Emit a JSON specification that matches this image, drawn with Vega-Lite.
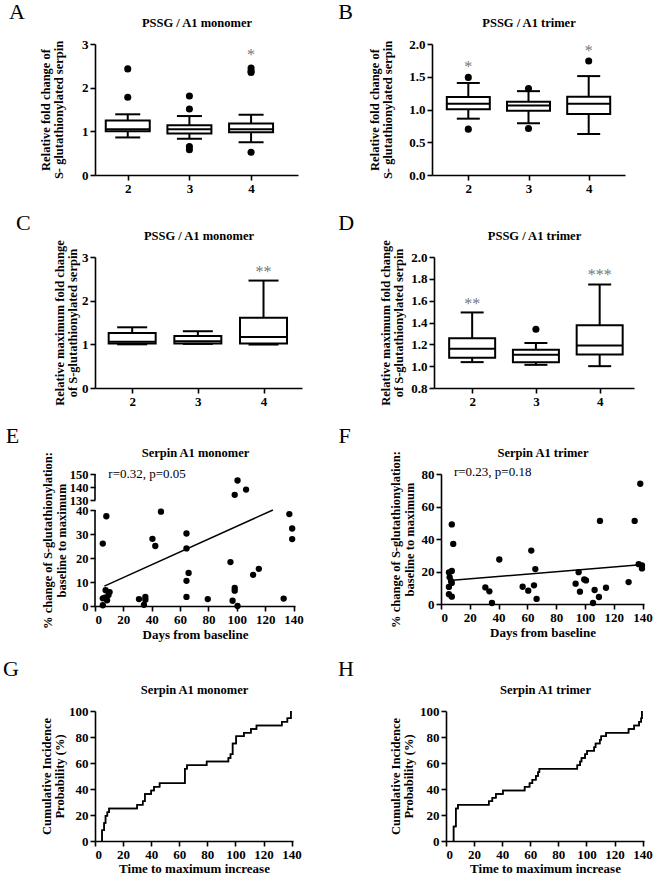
{
  "$schema": "https://vega.github.io/schema/vega-lite/v6.json",
  "padding": {"left": 3, "top": 1, "right": 0, "bottom": 0},
  "background": "white",
  "config": {
    "font": "Liberation Serif",
    "view": {"stroke": null},
    "axis": {"grid": false, "domainColor": "black", "domainWidth": 1.6, "tickColor": "black", "tickWidth": 1.6, "tickSize": 5, "labelOverlap": false,
      "labelFont": "Liberation Serif", "labelFontSize": 13, "labelFontWeight": "bold", "labelColor": "black", "labelPadding": 2,
      "titleFont": "Liberation Serif", "titleFontSize": 12.5, "titleFontWeight": "bold", "titleColor": "black", "titlePadding": 12, "titleLineHeight": 13.5},
    "title": {"font": "Liberation Serif", "fontSize": 22, "fontWeight": "normal", "color": "black", "anchor": "start"}
  },
  "datasets": {
    "boxA": [{"g": 2, "lo": 0.86, "q1": 1.0, "med": 1.05, "q3": 1.25, "hi": 1.39}, {"g": 3, "lo": 0.83, "q1": 0.95, "med": 1.05, "q3": 1.14, "hi": 1.35}, {"g": 4, "lo": 0.75, "q1": 0.98, "med": 1.05, "q3": 1.18, "hi": 1.38}],
    "outA": [{"g": 2, "v": 2.43}, {"g": 2, "v": 1.78}, {"g": 3, "v": 1.81}, {"g": 3, "v": 1.51}, {"g": 3, "v": 0.58}, {"g": 3, "v": 0.65}, {"g": 4, "v": 2.38}, {"g": 4, "v": 2.35}, {"g": 4, "v": 2.45}, {"g": 4, "v": 0.52}],
    "starA": [{"g": 4, "v": 2.85, "s": "*"}],
    "boxB": [{"g": 2, "lo": 0.86, "q1": 1.005, "med": 1.087, "q3": 1.19, "hi": 1.405}, {"g": 3, "lo": 0.79, "q1": 0.98, "med": 1.06, "q3": 1.12, "hi": 1.28}, {"g": 4, "lo": 0.626, "q1": 0.93, "med": 1.087, "q3": 1.195, "hi": 1.51}],
    "outB": [{"g": 2, "v": 1.49}, {"g": 2, "v": 0.70}, {"g": 3, "v": 1.32}, {"g": 3, "v": 0.71}, {"g": 4, "v": 1.74}],
    "starB": [{"g": 2, "v": 1.71, "s": "*"}, {"g": 4, "v": 1.95, "s": "*"}],
    "boxC": [{"g": 2, "lo": 1.0, "q1": 1.02, "med": 1.06, "q3": 1.26, "hi": 1.39}, {"g": 3, "lo": 1.01, "q1": 1.02, "med": 1.07, "q3": 1.19, "hi": 1.30}, {"g": 4, "lo": 0.995, "q1": 1.02, "med": 1.17, "q3": 1.61, "hi": 2.46}],
    "starC": [{"g": 4, "v": 2.75, "s": "**"}],
    "boxD": [{"g": 2, "lo": 1.037, "q1": 1.077, "med": 1.16, "q3": 1.255, "hi": 1.492}, {"g": 3, "lo": 1.012, "q1": 1.037, "med": 1.105, "q3": 1.151, "hi": 1.212}, {"g": 4, "lo": 1.0, "q1": 1.108, "med": 1.19, "q3": 1.375, "hi": 1.748}],
    "outD": [{"g": 3, "v": 1.338}],
    "starD": [{"g": 2, "v": 1.61, "s": "**"}, {"g": 4, "v": 1.874, "s": "***"}],
    "E": [{"d": 5.5, "v": 26}, {"d": 5.5, "v": 0.3}, {"d": 5.5, "v": 3.2}, {"d": 6.8, "v": 3.5}, {"d": 7.5, "v": 6.6}, {"d": 8, "v": 37.4}, {"d": 8.5, "v": 2.4}, {"d": 9.5, "v": 4.6}, {"d": 10.3, "v": 5.8}, {"d": 31, "v": 2.9}, {"d": 35.5, "v": 3.8}, {"d": 35.5, "v": 2.6}, {"d": 34.5, "v": 0.5}, {"d": 40.5, "v": 28}, {"d": 42.5, "v": 25}, {"d": 46.5, "v": 39.3}, {"d": 64.5, "v": 30.2}, {"d": 64.5, "v": 24}, {"d": 64.5, "v": 10.5}, {"d": 64.5, "v": 3.8}, {"d": 66, "v": 13.8}, {"d": 79.5, "v": 2.9}, {"d": 95.5, "v": 18.3}, {"d": 97, "v": 2.2}, {"d": 98.5, "v": 7.5}, {"d": 98.5, "v": 6.4}, {"d": 100.5, "v": 0}, {"d": 98.5, "v": 134}, {"d": 100.5, "v": 145}, {"d": 106.5, "v": 138}, {"d": 111.5, "v": 13}, {"d": 115.5, "v": 15.5}, {"d": 133, "v": 3.1}, {"d": 137, "v": 38.3}, {"d": 139, "v": 32.3}, {"d": 139, "v": 27.9}],
    "Efit": [{"d": 6.6, "v": 8.3}, {"d": 125.4, "v": 40}],
    "Eaxis": [{"a": 0, "b": 40}, {"a": 130, "b": 150}],
    "F": [{"d": 5.5, "v": 19.5}, {"d": 7.5, "v": 20.3}, {"d": 7.5, "v": 49}, {"d": 8.5, "v": 37}, {"d": 6, "v": 16.5}, {"d": 7, "v": 14}, {"d": 7.5, "v": 13}, {"d": 5.5, "v": 10.5}, {"d": 5.5, "v": 6}, {"d": 7.5, "v": 4.5}, {"d": 30.8, "v": 10.2}, {"d": 33.6, "v": 7.8}, {"d": 35.4, "v": 0.6}, {"d": 40.5, "v": 27.4}, {"d": 56.7, "v": 10.6}, {"d": 60.6, "v": 8.2}, {"d": 62.7, "v": 32.9}, {"d": 64.6, "v": 11.5}, {"d": 65.5, "v": 21.5}, {"d": 66.4, "v": 3.1}, {"d": 93.5, "v": 12.5}, {"d": 95.6, "v": 19.6}, {"d": 96.5, "v": 7.6}, {"d": 99.5, "v": 15.1}, {"d": 100.7, "v": 14.5}, {"d": 105.6, "v": 0.6}, {"d": 106.7, "v": 8.6}, {"d": 109.7, "v": 4.3}, {"d": 110.4, "v": 51.1}, {"d": 114.6, "v": 10}, {"d": 130.3, "v": 13.5}, {"d": 134.5, "v": 51.1}, {"d": 138.4, "v": 74}, {"d": 137.3, "v": 24.5}, {"d": 139.6, "v": 23.7}, {"d": 139.6, "v": 21.9}],
    "Ffit": [{"d": 5.8, "v": 14.5}, {"d": 138.4, "v": 24.1}],
    "G": [{"d": 5, "v": 0}, {"d": 5, "v": 8.3}, {"d": 6.5, "v": 13.9}, {"d": 7.5, "v": 19.4}, {"d": 8.8, "v": 22.2}, {"d": 10, "v": 25}, {"d": 30, "v": 27.8}, {"d": 34, "v": 30.6}, {"d": 35.5, "v": 36.1}, {"d": 40, "v": 38.9}, {"d": 42, "v": 41.7}, {"d": 46, "v": 44.4}, {"d": 64, "v": 55.6}, {"d": 65.5, "v": 58.3}, {"d": 79.5, "v": 61.1}, {"d": 95, "v": 63.9}, {"d": 96.5, "v": 66.7}, {"d": 98, "v": 75}, {"d": 100.5, "v": 80.6}, {"d": 106, "v": 83.3}, {"d": 111, "v": 86.1}, {"d": 115, "v": 88.9}, {"d": 133, "v": 91.7}, {"d": 137, "v": 94.4}, {"d": 139.5, "v": 100}],
    "H": [{"d": 5.4, "v": 0}, {"d": 5.4, "v": 11.1}, {"d": 7, "v": 25}, {"d": 8.5, "v": 27.8}, {"d": 30.5, "v": 30.6}, {"d": 33, "v": 33.3}, {"d": 35.5, "v": 36.1}, {"d": 40.5, "v": 38.9}, {"d": 56, "v": 41.7}, {"d": 59.5, "v": 44.4}, {"d": 61.5, "v": 47.2}, {"d": 64, "v": 50}, {"d": 65.5, "v": 52.8}, {"d": 66.5, "v": 55.6}, {"d": 93.5, "v": 58.3}, {"d": 95.5, "v": 61.1}, {"d": 96.5, "v": 63.9}, {"d": 99, "v": 66.7}, {"d": 100.5, "v": 69.4}, {"d": 105.5, "v": 72.2}, {"d": 106.5, "v": 75}, {"d": 109.5, "v": 77.8}, {"d": 110.5, "v": 80.6}, {"d": 114, "v": 83.3}, {"d": 130, "v": 86.1}, {"d": 134, "v": 88.9}, {"d": 137.5, "v": 91.7}, {"d": 139, "v": 94.4}, {"d": 139.5, "v": 100}],
    "rE": [{"d": 9.4, "v": 150, "s": "r=0.32, p=0.05"}],
    "rF": [{"d": 9, "v": 81, "s": "r=0.23, p=0.18"}]
  },
  "columns": 2,
  "align": {"row": "each", "column": "none"},
  "spacing": {"row": 17, "column": 34},
  "concat": [
    {"title": {"text": "A", "offset": -8, "dx": -30},
     "width": 203, "height": 131, "data": {"name": "boxA"},
     "resolve": {"axis": {"x": "independent"}},
     "layer": [
      {"mark": {"type": "rule", "strokeWidth": 2, "color": "black"},
       "encoding": {"x": {"field": "g", "type": "quantitative", "scale": {"domain": [1.55, 4.68], "nice": false, "zero": false}, "axis": {"values": [2, 3, 4], "tickCount": 20, "format": "d", "title": null}},
         "y": {"field": "lo", "type": "quantitative", "scale": {"domain": [0, 3], "nice": false}, "axis": {"values": [0, 1, 2, 3], "tickCount": 20, "format": "d", "titlePadding": 16, "title": ["Relative fold change of", "S- glutathionylated serpin"]}}, "y2": {"field": "hi"}}},
      {"mark": {"type": "bar", "width": 44, "fill": "white", "stroke": "black", "strokeWidth": 2},
       "encoding": {"x": {"field": "g", "type": "quantitative", "axis": {"orient": "top", "domain": false, "ticks": false, "labels": false, "title": "PSSG / A1 monomer", "titlePadding": 15}}, "y": {"field": "q1", "type": "quantitative"}, "y2": {"field": "q3"}}},
      {"mark": {"type": "tick", "orient": "horizontal", "size": 44, "thickness": 2, "color": "black", "opacity": 1},
       "encoding": {"x": {"field": "g", "type": "quantitative", "axis": null}, "y": {"field": "med", "type": "quantitative"}}},
      {"mark": {"type": "tick", "orient": "horizontal", "size": 25, "thickness": 2, "color": "black", "opacity": 1},
       "encoding": {"x": {"field": "g", "type": "quantitative", "axis": null}, "y": {"field": "lo", "type": "quantitative"}}},
      {"mark": {"type": "tick", "orient": "horizontal", "size": 25, "thickness": 2, "color": "black", "opacity": 1},
       "encoding": {"x": {"field": "g", "type": "quantitative", "axis": null}, "y": {"field": "hi", "type": "quantitative"}}},
      {"data": {"name": "outA"}, "mark": {"type": "circle", "size": 50, "color": "black", "opacity": 1},
       "encoding": {"x": {"field": "g", "type": "quantitative", "axis": null}, "y": {"field": "v", "type": "quantitative"}}},
      {"data": {"name": "starA"}, "mark": {"type": "text", "fontSize": 16, "color": "#777777", "baseline": "middle", "dy": 4},
       "encoding": {"x": {"field": "g", "type": "quantitative", "axis": null}, "y": {"field": "v", "type": "quantitative"}, "text": {"field": "s"}}}
     ]},
    {"title": {"text": "B", "offset": -8, "dx": -30},
     "width": 193, "height": 131, "data": {"name": "boxB"},
     "resolve": {"axis": {"x": "independent"}},
     "layer": [
      {"mark": {"type": "rule", "strokeWidth": 2, "color": "black"},
       "encoding": {"x": {"field": "g", "type": "quantitative", "scale": {"domain": [1.48, 4.52], "nice": false, "zero": false}, "axis": {"values": [2, 3, 4], "tickCount": 20, "format": "d", "title": null}},
         "y": {"field": "lo", "type": "quantitative", "scale": {"domain": [0, 2], "nice": false}, "axis": {"values": [0, 0.5, 1, 1.5, 2], "tickCount": 20, "format": ".1f", "titlePadding": 14, "title": ["Relative fold change of", "S- glutathionylated serpin"]}}, "y2": {"field": "hi"}}},
      {"mark": {"type": "bar", "width": 43, "fill": "white", "stroke": "black", "strokeWidth": 2},
       "encoding": {"x": {"field": "g", "type": "quantitative", "axis": {"orient": "top", "domain": false, "ticks": false, "labels": false, "title": "PSSG / A1 trimer", "titlePadding": 15}}, "y": {"field": "q1", "type": "quantitative"}, "y2": {"field": "q3"}}},
      {"mark": {"type": "tick", "orient": "horizontal", "size": 43, "thickness": 2, "color": "black", "opacity": 1},
       "encoding": {"x": {"field": "g", "type": "quantitative", "axis": null}, "y": {"field": "med", "type": "quantitative"}}},
      {"mark": {"type": "tick", "orient": "horizontal", "size": 23, "thickness": 2, "color": "black", "opacity": 1},
       "encoding": {"x": {"field": "g", "type": "quantitative", "axis": null}, "y": {"field": "lo", "type": "quantitative"}}},
      {"mark": {"type": "tick", "orient": "horizontal", "size": 23, "thickness": 2, "color": "black", "opacity": 1},
       "encoding": {"x": {"field": "g", "type": "quantitative", "axis": null}, "y": {"field": "hi", "type": "quantitative"}}},
      {"data": {"name": "outB"}, "mark": {"type": "circle", "size": 50, "color": "black", "opacity": 1},
       "encoding": {"x": {"field": "g", "type": "quantitative", "axis": null}, "y": {"field": "v", "type": "quantitative"}}},
      {"data": {"name": "starB"}, "mark": {"type": "text", "fontSize": 16, "color": "#777777", "baseline": "middle", "dy": 4},
       "encoding": {"x": {"field": "g", "type": "quantitative", "axis": null}, "y": {"field": "v", "type": "quantitative"}, "text": {"field": "s"}}}
     ]},
    {"title": {"text": "C", "offset": -6, "dx": -37},
     "width": 207, "height": 131, "data": {"name": "boxC"},
     "resolve": {"axis": {"x": "independent"}},
     "layer": [
      {"mark": {"type": "rule", "strokeWidth": 2, "color": "black"},
       "encoding": {"x": {"field": "g", "type": "quantitative", "scale": {"domain": [1.51, 4.51], "nice": false, "zero": false}, "axis": {"values": [2, 3, 4], "tickCount": 20, "format": "d", "title": null}},
         "y": {"field": "lo", "type": "quantitative", "scale": {"domain": [0, 3], "nice": false}, "axis": {"values": [0, 1, 2, 3], "tickCount": 20, "format": "d", "titlePadding": 2, "title": ["Relative maximum fold change", "of S-glutathionylated serpin"]}}, "y2": {"field": "hi"}}},
      {"mark": {"type": "bar", "width": 47, "fill": "white", "stroke": "black", "strokeWidth": 2},
       "encoding": {"x": {"field": "g", "type": "quantitative", "axis": {"orient": "top", "domain": false, "ticks": false, "labels": false, "title": "PSSG / A1 monomer", "titlePadding": 15}}, "y": {"field": "q1", "type": "quantitative"}, "y2": {"field": "q3"}}},
      {"mark": {"type": "tick", "orient": "horizontal", "size": 47, "thickness": 2, "color": "black", "opacity": 1},
       "encoding": {"x": {"field": "g", "type": "quantitative", "axis": null}, "y": {"field": "med", "type": "quantitative"}}},
      {"mark": {"type": "tick", "orient": "horizontal", "size": 30, "thickness": 2, "color": "black", "opacity": 1},
       "encoding": {"x": {"field": "g", "type": "quantitative", "axis": null}, "y": {"field": "lo", "type": "quantitative"}}},
      {"mark": {"type": "tick", "orient": "horizontal", "size": 30, "thickness": 2, "color": "black", "opacity": 1},
       "encoding": {"x": {"field": "g", "type": "quantitative", "axis": null}, "y": {"field": "hi", "type": "quantitative"}}},
      {"data": {"name": "starC"}, "mark": {"type": "text", "fontSize": 16, "color": "#777777", "baseline": "middle", "dy": 4},
       "encoding": {"x": {"field": "g", "type": "quantitative", "axis": null}, "y": {"field": "v", "type": "quantitative"}, "text": {"field": "s"}}}
     ]},
    {"title": {"text": "D", "offset": -6, "dx": -41},
     "width": 200, "height": 131, "data": {"name": "boxD"},
     "resolve": {"axis": {"x": "independent"}},
     "layer": [
      {"mark": {"type": "rule", "strokeWidth": 2, "color": "black"},
       "encoding": {"x": {"field": "g", "type": "quantitative", "scale": {"domain": [1.48, 4.46], "nice": false, "zero": false}, "axis": {"values": [2, 3, 4], "tickCount": 20, "format": "d", "title": null}},
         "y": {"field": "lo", "type": "quantitative", "scale": {"domain": [0.8, 2], "nice": false, "zero": false}, "axis": {"values": [0.8, 1.0, 1.2, 1.4, 1.6, 1.8, 2.0], "tickCount": 20, "format": ".1f", "titlePadding": 5, "title": ["Relative maximum fold change", "of S-glutathionylated serpin"]}}, "y2": {"field": "hi"}}},
      {"mark": {"type": "bar", "width": 46, "fill": "white", "stroke": "black", "strokeWidth": 2},
       "encoding": {"x": {"field": "g", "type": "quantitative", "axis": {"orient": "top", "domain": false, "ticks": false, "labels": false, "title": "PSSG / A1 trimer", "titlePadding": 15}}, "y": {"field": "q1", "type": "quantitative"}, "y2": {"field": "q3"}}},
      {"mark": {"type": "tick", "orient": "horizontal", "size": 46, "thickness": 2, "color": "black", "opacity": 1},
       "encoding": {"x": {"field": "g", "type": "quantitative", "axis": null}, "y": {"field": "med", "type": "quantitative"}}},
      {"mark": {"type": "tick", "orient": "horizontal", "size": 23, "thickness": 2, "color": "black", "opacity": 1},
       "encoding": {"x": {"field": "g", "type": "quantitative", "axis": null}, "y": {"field": "lo", "type": "quantitative"}}},
      {"mark": {"type": "tick", "orient": "horizontal", "size": 23, "thickness": 2, "color": "black", "opacity": 1},
       "encoding": {"x": {"field": "g", "type": "quantitative", "axis": null}, "y": {"field": "hi", "type": "quantitative"}}},
      {"data": {"name": "outD"}, "mark": {"type": "circle", "size": 50, "color": "black", "opacity": 1},
       "encoding": {"x": {"field": "g", "type": "quantitative", "axis": null}, "y": {"field": "v", "type": "quantitative"}}},
      {"data": {"name": "starD"}, "mark": {"type": "text", "fontSize": 16, "color": "#777777", "baseline": "middle", "dy": 4},
       "encoding": {"x": {"field": "g", "type": "quantitative", "axis": null}, "y": {"field": "v", "type": "quantitative"}, "text": {"field": "s"}}}
     ]},
    {"title": {"text": "E", "offset": -2, "dx": -36},
     "width": 200, "height": 132,
     "resolve": {"axis": {"x": "independent"}},
     "layer": [
      {"data": {"name": "E"}, "mark": {"type": "circle", "size": 40, "color": "black", "opacity": 1},
       "encoding": {"x": {"field": "d", "type": "quantitative", "scale": {"domain": [0, 141], "nice": false}, "axis": {"values": [0, 20, 40, 60, 80, 100, 120, 140], "tickCount": 20, "format": "d", "title": "Days from baseline", "titleFontSize": 13, "titlePadding": 2}},
         "y": {"field": "v", "type": "quantitative", "scale": {"domain": [0, 40, 130, 150], "range": [132, 36, 26, 0], "nice": false, "zero": false}, "axis": {"values": [0, 10, 20, 30, 40, 130, 140, 150], "tickCount": 20, "format": "d", "labelFontSize": 12.5, "domain": false, "titlePadding": 1, "title": ["% change of S-glutathionylation:", "baseline to maximum"]}}}},
      {"data": {"name": "Eaxis"}, "mark": {"type": "rule", "color": "black", "strokeWidth": 1.6},
       "encoding": {"x": {"datum": 0, "type": "quantitative", "axis": null}, "y": {"field": "a", "type": "quantitative"}, "y2": {"field": "b"}}},
      {"data": {"name": "Efit"}, "mark": {"type": "line", "color": "black", "strokeWidth": 1.5},
       "encoding": {"x": {"field": "d", "type": "quantitative", "axis": {"orient": "top", "domain": false, "ticks": false, "labels": false, "title": "Serpin A1 monomer", "titlePadding": 15}}, "y": {"field": "v", "type": "quantitative"}}},
      {"data": {"name": "rE"}, "mark": {"type": "text", "align": "left", "baseline": "middle", "fontSize": 13, "fontWeight": "normal", "color": "black"},
       "encoding": {"x": {"field": "d", "type": "quantitative", "axis": null}, "y": {"field": "v", "type": "quantitative"}, "text": {"field": "s"}}}
     ]},
    {"title": {"text": "F", "offset": -2, "dx": -51},
     "width": 203, "height": 130,
     "resolve": {"axis": {"x": "independent"}},
     "layer": [
      {"data": {"name": "F"}, "mark": {"type": "circle", "size": 40, "color": "black", "opacity": 1},
       "encoding": {"x": {"field": "d", "type": "quantitative", "scale": {"domain": [0, 141], "nice": false}, "axis": {"values": [0, 20, 40, 60, 80, 100, 120, 140], "tickCount": 20, "format": "d", "title": "Days from baseline", "titleFontSize": 13, "titlePadding": 2}},
         "y": {"field": "v", "type": "quantitative", "scale": {"domain": [0, 80], "nice": false}, "axis": {"values": [0, 20, 40, 60, 80], "tickCount": 20, "format": "d", "titlePadding": 5, "title": ["% change of S-glutathionylation:", "baseline to maximum"]}}}},
      {"data": {"name": "Ffit"}, "mark": {"type": "line", "color": "black", "strokeWidth": 1.5},
       "encoding": {"x": {"field": "d", "type": "quantitative", "axis": {"orient": "top", "domain": false, "ticks": false, "labels": false, "title": "Serpin A1 trimer", "titlePadding": 15}}, "y": {"field": "v", "type": "quantitative"}}},
      {"data": {"name": "rF"}, "mark": {"type": "text", "align": "left", "baseline": "middle", "fontSize": 13, "fontWeight": "normal", "color": "black"},
       "encoding": {"x": {"field": "d", "type": "quantitative", "axis": null}, "y": {"field": "v", "type": "quantitative"}, "text": {"field": "s"}}}
     ]},
    {"title": {"text": "G", "offset": 2, "dx": -37},
     "width": 198, "height": 130, "data": {"name": "G"},
     "resolve": {"axis": {"x": "independent"}},
     "layer": [
      {"mark": {"type": "line", "interpolate": "step-after", "color": "black", "strokeWidth": 1.5},
       "encoding": {"x": {"field": "d", "type": "quantitative", "scale": {"domain": [0, 141], "nice": false}, "axis": {"values": [0, 20, 40, 60, 80, 100, 120, 140], "tickCount": 20, "format": "d", "title": "Time to maximum increase", "titleFontSize": 13, "titlePadding": 1}},
         "y": {"field": "v", "type": "quantitative", "scale": {"domain": [0, 100], "nice": false}, "axis": {"values": [0, 20, 40, 60, 80, 100], "tickCount": 20, "format": "d", "titlePadding": 2, "title": ["Cumulative Incidence", "Probability (%)"]}}}},
      {"mark": {"type": "line", "interpolate": "step-after", "color": "black", "strokeWidth": 1.5},
       "encoding": {"x": {"field": "d", "type": "quantitative", "axis": {"orient": "top", "domain": false, "ticks": false, "labels": false, "title": "Serpin A1 monomer", "titlePadding": 15}}, "y": {"field": "v", "type": "quantitative"}}}
     ]},
    {"title": {"text": "H", "offset": 2, "dx": -51},
     "width": 198, "height": 130, "data": {"name": "H"},
     "resolve": {"axis": {"x": "independent"}},
     "layer": [
      {"mark": {"type": "line", "interpolate": "step-after", "color": "black", "strokeWidth": 1.5},
       "encoding": {"x": {"field": "d", "type": "quantitative", "scale": {"domain": [0, 141], "nice": false}, "axis": {"values": [0, 20, 40, 60, 80, 100, 120, 140], "tickCount": 20, "format": "d", "title": "Time to maximum increase", "titleFontSize": 13, "titlePadding": 1}},
         "y": {"field": "v", "type": "quantitative", "scale": {"domain": [0, 100], "nice": false}, "axis": {"values": [0, 20, 40, 60, 80, 100], "tickCount": 20, "format": "d", "titlePadding": 4, "title": ["Cumulative Incidence", "Probability (%)"]}}}},
      {"mark": {"type": "line", "interpolate": "step-after", "color": "black", "strokeWidth": 1.5},
       "encoding": {"x": {"field": "d", "type": "quantitative", "axis": {"orient": "top", "domain": false, "ticks": false, "labels": false, "title": "Serpin A1 trimer", "titlePadding": 15}}, "y": {"field": "v", "type": "quantitative"}}}
     ]}
  ]
}
